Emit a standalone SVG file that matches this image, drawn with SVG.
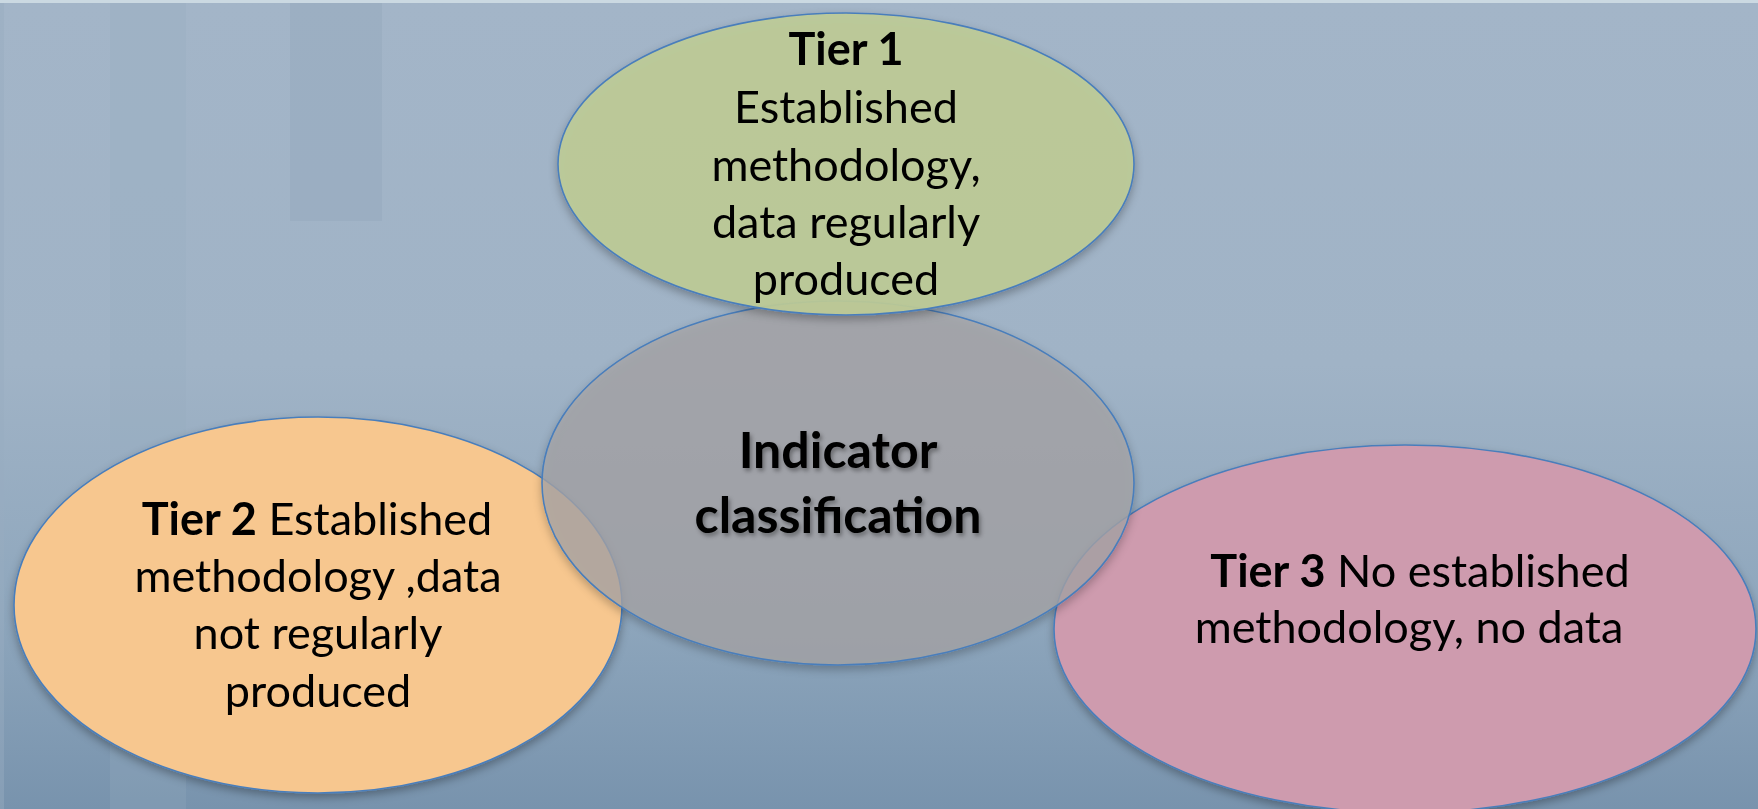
<svg xmlns="http://www.w3.org/2000/svg" width="1758" height="809" viewBox="0 0 1758 809">
<defs>
<linearGradient id="bg" x1="0" y1="0" x2="0" y2="1">
<stop offset="0" stop-color="#A3B5C8"/>
<stop offset="0.45" stop-color="#A0B3C6"/>
<stop offset="0.75" stop-color="#8FA7BD"/>
<stop offset="1" stop-color="#7893AD"/>
</linearGradient>
<filter id="sh" x="-10%" y="-10%" width="120%" height="130%">
<feDropShadow dx="0" dy="4" stdDeviation="4" flood-color="#000" flood-opacity="0.3"/>
</filter>
<filter id="tsh" x="-10%" y="-20%" width="120%" height="140%">
<feDropShadow dx="2" dy="3" stdDeviation="2" flood-color="#000" flood-opacity="0.35"/>
</filter>
<style>
.ell{stroke:#4A7EBB;stroke-width:1.6}
.t{font-family:Lato,"Liberation Sans",sans-serif;font-size:45px;fill:#000;text-anchor:middle}
.b{font-weight:bold}
.c{font-family:Lato,"Liberation Sans",sans-serif;font-size:50px;font-weight:bold;fill:#000;text-anchor:middle}
</style>
</defs>
<rect x="0" y="0" width="1758" height="809" fill="url(#bg)"/>
<rect x="0" y="0" width="1758" height="3" fill="#CBD9E2"/>
<g id="background-bands" opacity="0.45">
<rect x="0" y="3" width="4" height="806" fill="#98ADC1"/>
<rect x="110" y="3" width="76" height="806" fill="#97ACC0" opacity="0.6"/>
<rect x="290" y="3" width="92" height="218" fill="#95A9BD"/>
</g>
<g id="tier2"><ellipse class="ell" cx="318" cy="605" rx="304" ry="188" fill="#F7C78F" filter="url(#sh)"/></g>
<g id="tier3"><ellipse class="ell" cx="1405" cy="629" rx="351" ry="184" fill="#CE9BAE" filter="url(#sh)"/></g>
<g id="center"><ellipse class="ell" cx="838" cy="483" rx="296" ry="182" fill="#A7A5A7" fill-opacity="0.75" filter="url(#sh)"/></g>
<g id="tier1"><ellipse class="ell" cx="846" cy="164" rx="288" ry="151" fill="#BFCC97" fill-opacity="0.9" filter="url(#sh)"/></g>
<g id="connectors"></g>
<g id="labels">
<text class="t b" x="846" y="65">Tier 1</text>
<text class="t" x="846" y="123">Established</text>
<text class="t" x="846" y="181">methodology,</text>
<text class="t" x="846" y="238">data regularly</text>
<text class="t" x="846" y="295">produced</text>
<text class="c" x="838" y="468" filter="url(#tsh)">Indicator</text>
<text class="c" x="838" y="533" filter="url(#tsh)">classification</text>
<text class="t" x="317" y="535"><tspan class="b">Tier 2</tspan> Established</text>
<text class="t" x="318" y="592">methodology ,data</text>
<text class="t" x="318" y="649">not regularly</text>
<text class="t" x="318" y="707">produced</text>
<text class="t" x="1420" y="587"><tspan class="b">Tier 3</tspan> No established</text>
<text class="t" x="1409" y="643">methodology, no data</text>
</g>
</svg>
